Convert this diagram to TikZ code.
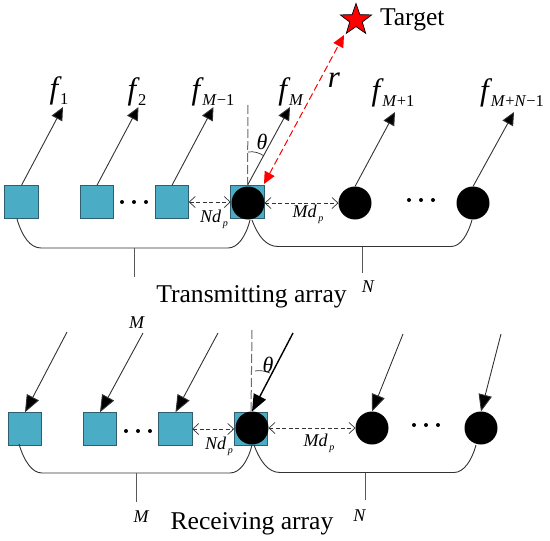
\documentclass[tikz,border=0pt]{standalone}
\usepackage{fontspec}
\setmainfont{Liberation Serif}
\usetikzlibrary{arrows.meta,shapes.geometric}
\definecolor{elemblue}{HTML}{4BACC6}
\definecolor{elemedge}{HTML}{2F5F6E}
\definecolor{darkline}{HTML}{333333}
\newcommand{\fsub}[1]{{\fontsize{31}{31}\selectfont\textit{f}}\kern-1.5pt\raisebox{-6pt}{\fontsize{16.5}{16.5}\selectfont #1}}
\newcommand{\itm}{\textit{M}}
\newcommand{\itn}{\textit{N}}
\newcommand{\dsub}[1]{{\fontsize{18}{18}\selectfont\textit{#1d}}\raisebox{-4pt}{\fontsize{10}{10}\selectfont\,\textit{p}}}
\tikzset{
  elemsq/.style={draw=elemedge,line width=0.9pt,fill=elemblue,minimum size=33.5pt,inner sep=0pt,outer sep=0pt},
  elemdot/.style={circle,fill=black,minimum size=33pt,inner sep=0pt,outer sep=0pt},
  smalldot/.style={circle,fill=black,minimum size=4pt,inner sep=0pt},
  lab/.style={inner sep=0pt,outer sep=0pt},
  title/.style={lab,font=\fontsize{25.6}{25.6}\selectfont},
  sizelab/.style={lab,font=\fontsize{18}{18}\selectfont\itshape},
  beamt/.style={draw=darkline,line width=0.9pt,-{Triangle[length=13pt,width=12pt,fill=black]}},
  beamr/.style={draw=darkline,line width=0.9pt,-{Triangle[length=17pt,width=13.5pt,fill=black]}},
  spacing/.style={draw=darkline,line width=0.7pt,dash pattern=on 4pt off 2.5pt,{Straight Barb[length=6pt,width=11pt]}-{Straight Barb[length=6pt,width=11pt]}},
  normalline/.style={draw=gray!85!black,line width=1pt,dash pattern=on 9pt off 3pt},
  wire/.style={draw=darkline,line width=0.9pt},
  stub/.style={draw=gray!70!black,line width=0.9pt},
  redray/.style={draw=red,line width=1pt,dash pattern=on 7pt off 3.5pt,{Triangle[length=12pt,width=11pt,fill=red]}-{Triangle[length=12pt,width=11pt,fill=red]}}
}
\begin{document}
\begin{tikzpicture}[x=1pt,y=-1pt]
\useasboundingbox (0,0) rectangle (550,541);
% Transmit elements
\node[elemsq] (s1) at (21.5,202) {};
\node[elemsq] (s2) at (97,202) {};
\node[elemsq] (s3) at (172,202) {};
\node[elemsq] (s4) at (247.5,202) {};
\node[elemdot] (c4) at (248,203) {};
\node[elemdot] (c5) at (355,203) {};
\node[elemdot] (c6) at (473,203) {};
\foreach \n/\x in {a/122,b/134,c/146}{\node[smalldot] (td\n) at (\x,202) {};}
\foreach \n/\x in {a/409,b/421,c/433}{\node[smalldot] (te\n) at (\x,200) {};}
% Transmit beams
\coordinate (t1) at (63,107);
\coordinate (t2) at (138.5,107);
\coordinate (t3) at (213.5,107);
\coordinate (t4) at (290,107);
\coordinate (t5) at (395,112);
\coordinate (t6) at (514,112);
\draw[beamt] (s1.north) -- (t1);
\draw[beamt] (s2.north) -- (t2);
\draw[beamt] (s3.north) -- (t3);
\draw[beamt] (s4.north) -- (t4);
\draw[beamt] (c5.north) -- (t5);
\draw[beamt] (c6.north) -- (t6);
\node[lab] (f1) at (59,91) {\fsub{1}};
\node[lab] (f2) at (137,92) {\fsub{2}};
\node[lab] (f3) at (213,92) {\fsub{\itm{}−1}};
\node[lab] (f4) at (291,91.5) {\fsub{\itm}};
\node[lab] (f5) at (393,93) {\fsub{\itm{}+1}};
\node[lab] (f6) at (512,93) {\fsub{\itm{}+\itn{}−1}};
% Normal and angle
\coordinate (n1) at (248,105);
\draw[normalline] (n1) -- (s4.north);
\coordinate (a1) at (248,152);
\coordinate (a2) at (264,156);
\draw[wire,line width=0.7pt] (a1) .. controls (254,151) and (260,153) .. (a2);
\node[lab,font=\fontsize{22}{22}\selectfont\itshape] (th1) at (262,142) {θ};
% Target
\node[star,star points=5,star point ratio=2.5,draw=black,line width=0.7pt,fill=red,minimum size=33pt,inner sep=0pt] (tg) at (356,20) {};
\node[title,anchor=west] (tgl) at (380,20) {Target};
\coordinate (rt) at (344,35);
\coordinate (rb) at (264,184);
\draw[redray] (rb) -- (rt);
\node[lab,font=\fontsize{31}{31}\selectfont\itshape] (rl) at (334,80) {r};
% Spacing
\draw[spacing] (s3.east) -- (s4.west);
\draw[spacing] (c4.east) -- (c5.west);
\node[lab] (nd1) at (214,219) {\dsub{N}};
\node[lab] (md1) at (308,214) {\dsub{M}};
% Braces
\coordinate (b1) at (17,219);
\coordinate (b2) at (41,248);
\coordinate (b3) at (228,248);
\coordinate (b4) at (250,220);
\draw[wire] (b1) .. controls (22,236) and (30,248) .. (b2) -- (b3) .. controls (238,248) and (246,236) .. (b4);
\coordinate (b5) at (252,220);
\coordinate (b6) at (278,246.5);
\coordinate (b7) at (451,246.5);
\coordinate (b8) at (472,220);
\draw[wire] (b5) .. controls (258,236) and (266,246.5) .. (b6) -- (b7) .. controls (461,246.5) and (468,234) .. (b8);
\coordinate (k1) at (134.5,248);
\coordinate (k2) at (134.5,277);
\coordinate (k3) at (362,246.5);
\coordinate (k4) at (362,273);
\draw[stub] (k1) -- (k2);
\draw[stub] (k3) -- (k4);
\node[sizelab] (nt) at (368,287) {N};
\node[title] (tx) at (251.5,297) {Transmitting array};
% Receive elements
\node[elemsq] (r1) at (25,429) {};
\node[elemsq] (r2) at (100,429) {};
\node[elemsq] (r3) at (175.5,429) {};
\node[elemsq] (r4) at (251,429) {};
\node[elemdot] (d4) at (252,428) {};
\node[elemdot] (d5) at (372,428) {};
\node[elemdot] (d6) at (481,428) {};
\foreach \n/\x in {a/126,b/138,c/150}{\node[smalldot] (rd\n) at (\x,431) {};}
\foreach \n/\x in {a/414,b/426,c/438}{\node[smalldot] (re\n) at (\x,425) {};}
% Receive beams
\coordinate (u1) at (67,332);
\coordinate (u2) at (143,333);
\coordinate (u3) at (218,333);
\coordinate (u4) at (293,333);
\coordinate (u5) at (403,334);
\coordinate (u6) at (501,334);
\draw[beamr] (u1) -- (r1.north);
\draw[beamr] (u2) -- (r2.north);
\draw[beamr] (u3) -- (r3.north);
\draw[beamr,line width=1.4pt,draw=black] (u4) -- (d4.north);
\draw[beamr] (u5) -- (d5.north);
\draw[beamr] (u6) -- (d6.north);
\coordinate (n2) at (252,330);
\draw[normalline] (n2) -- (r4.north);
\coordinate (a3) at (255,371);
\coordinate (a4) at (270,373);
\draw[wire,line width=0.7pt] (a3) .. controls (260,370) and (265,371) .. (a4);
\node[lab,font=\fontsize{22}{22}\selectfont\itshape] (th2) at (268,365) {θ};
\draw[spacing] (r3.east) -- (r4.west);
\draw[spacing] (d4.east) -- (d5.west);
\node[lab] (nd2) at (219,446) {\dsub{N}};
\node[lab] (md2) at (319,443) {\dsub{M}};
% Receive braces
\coordinate (e1) at (19,444);
\coordinate (e2) at (42,473);
\coordinate (e3) at (230,473);
\coordinate (e4) at (252,445);
\draw[wire] (e1) .. controls (24,461) and (32,473) .. (e2) -- (e3) .. controls (240,473) and (248,461) .. (e4);
\coordinate (e5) at (254,445);
\coordinate (e6) at (280,472.5);
\coordinate (e7) at (454,472.5);
\coordinate (e8) at (476,445);
\draw[wire] (e5) .. controls (260,461) and (268,472.5) .. (e6) -- (e7) .. controls (464,472.5) and (472,460) .. (e8);
\coordinate (k5) at (136,473);
\coordinate (k6) at (136,502);
\coordinate (k7) at (365,472.5);
\coordinate (k8) at (365,500);
\draw[stub] (k5) -- (k6);
\draw[stub] (k7) -- (k8);
\node[sizelab] (mt) at (136.5,323) {M};
\node[sizelab] (mb) at (141,517) {M};
\node[sizelab] (nb) at (359.5,516) {N};
\node[title] (rx) at (252,524) {Receiving array};
\end{tikzpicture}
\end{document}
